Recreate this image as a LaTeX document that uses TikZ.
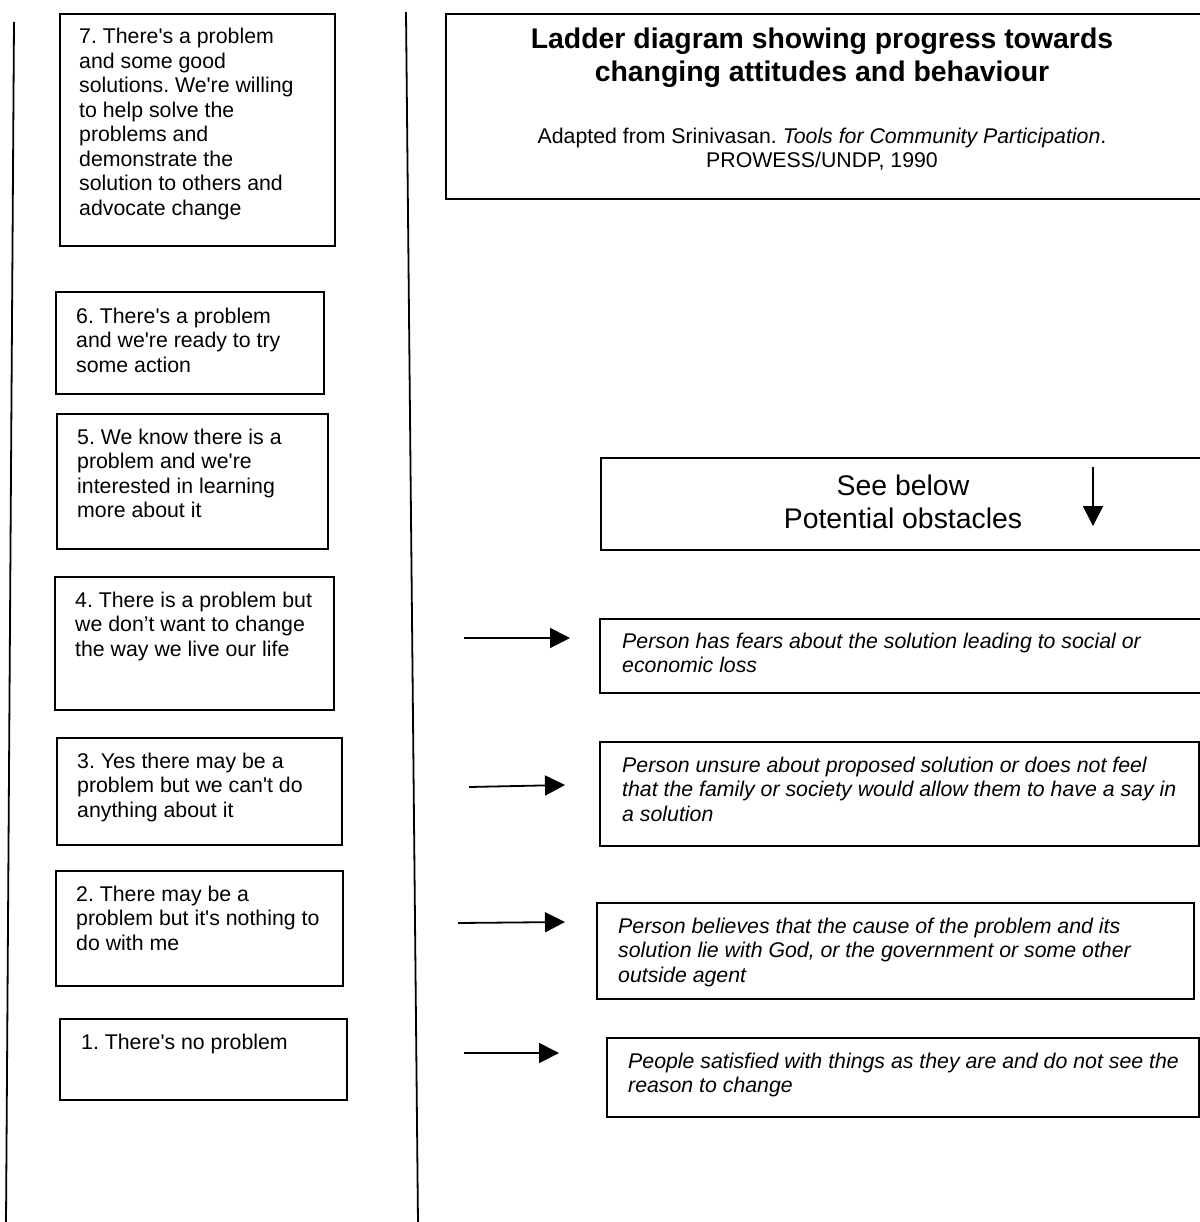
\documentclass[tikz,border=0pt]{standalone}
\usepackage{fontspec}
\setmainfont{Liberation Sans}[Ligatures=TeXOff]
\usetikzlibrary{arrows.meta}
\begin{document}
\frenchspacing
\begin{tikzpicture}[x=1pt,y=-1pt,
  box/.style={draw, line width=1.8pt, anchor=north west, inner sep=0pt},
  rail/.style={draw, line width=1.8pt},
  arr/.style={draw, line width=1.8pt, -{Triangle[length=20pt,width=20pt]}},
  txt/.style={font=\fontsize{21.3}{24.5}\selectfont\frenchspacing, align=left, anchor=base west, inner sep=0pt},
  itxt/.style={txt, font=\fontsize{21.3}{24.5}\selectfont\itshape\frenchspacing},
  ttl/.style={font=\fontsize{28.4}{33}\selectfont\bfseries\frenchspacing, align=center, anchor=base, inner sep=0pt},
  sub/.style={font=\fontsize{21.3}{24}\selectfont\frenchspacing, align=center, anchor=base, inner sep=0pt},
  big/.style={font=\fontsize{28.4}{33}\selectfont\frenchspacing, align=center, anchor=base, inner sep=0pt}]
\useasboundingbox (0,0) rectangle (1199,1222);
\fill[white] (0,0) rectangle (1199,1222);

% ladder rails
\coordinate (ltop) at (14,22);
\coordinate (lbot) at (6,1224);
\coordinate (rtop) at (406,12);
\coordinate (rbot) at (418,1224);
\draw[rail] (ltop) -- (lbot);
\draw[rail] (rtop) -- (rbot);

% ladder rungs
\node[box, minimum width=275pt, minimum height=232pt] (b7) at (59,13) {};
\node[box, minimum width=268pt, minimum height=102pt] (b6) at (55,291) {};
\node[box, minimum width=271pt, minimum height=135pt] (b5) at (56,413) {};
\node[box, minimum width=279pt, minimum height=133pt] (b4) at (54,576) {};
\node[box, minimum width=285pt, minimum height=107pt] (b3) at (56,737) {};
\node[box, minimum width=287pt, minimum height=115pt] (b2) at (55,870) {};
\node[box, minimum width=287pt, minimum height=81pt] (b1) at (59,1018) {};

% texts: anchor = baseline of the last line
\node[txt] (t7) at (79,215.5) {7. There's a problem\\and some good\\solutions. We're willing\\to help solve the\\problems and\\demonstrate the\\solution to others and\\advocate change};
\node[txt] (t6) at (76,372) {6. There's a problem\\and we're ready to try\\some action};
\node[txt] (t5) at (77,517.5) {5. We know there is a\\problem and we're\\interested in learning\\more about it};
\node[txt] (t4) at (75,656) {4. There is a problem but\\we don’t want to change\\the way we live our life};
\node[txt] (t3) at (77,817) {3. Yes there may be a\\problem but we can't do\\anything about it};
\node[txt] (t2) at (76,950) {2. There may be a\\problem but it's nothing to\\do with me};
\node[txt] (t1) at (81,1049) {1. There's no problem};

% title box
\node[box, minimum width=765pt, minimum height=185pt] (title) at (445,13) {};
\node[ttl] (ttext) at (822,82) {Ladder diagram showing progress towards\\changing attitudes and behaviour};
\node[sub] (src) at (822,168) {Adapted from Srinivasan. \textit{Tools for Community Participation}.\\PROWESS/UNDP, 1990};

% see below box
\node[box, minimum width=610pt, minimum height=92pt] (see) at (600,457) {};
\node[big] (seet) at (903,528) {See below\\Potential obstacles};
\coordinate (sa) at (1093,467);
\coordinate (sb) at (1093,526);
\draw[arr] (sa) -- (sb);

% obstacles
\node[box, minimum width=611pt, minimum height=74pt] (o1) at (599,618) {};
\node[box, minimum width=599pt, minimum height=104pt] (o2) at (599,741) {};
\node[box, minimum width=597pt, minimum height=96pt] (o3) at (596,902) {};
\node[box, minimum width=592pt, minimum height=79pt] (o4) at (606,1037) {};

\node[itxt] (ot1) at (622,672.5) {Person has fears about the solution leading to social or\\economic loss};
\node[itxt] (ot2) at (622,821) {Person unsure about proposed solution or does not feel\\that the family or society would allow them to have a say in\\a solution};
\node[itxt] (ot3) at (618,982) {Person believes that the cause of the problem and its\\solution lie with God, or the government or some other\\outside agent};
\node[itxt] (ot4) at (628,1092.5) {People satisfied with things as they are and do not see the\\reason to change};

% arrows
\coordinate (a1s) at (464,638); \coordinate (a1e) at (570,638);
\coordinate (a2s) at (469,787); \coordinate (a2e) at (565,785);
\coordinate (a3s) at (458,923); \coordinate (a3e) at (565,922);
\coordinate (a4s) at (464,1053); \coordinate (a4e) at (559,1053);
\draw[arr] (a1s) -- (a1e);
\draw[arr] (a2s) -- (a2e);
\draw[arr] (a3s) -- (a3e);
\draw[arr] (a4s) -- (a4e);
\end{tikzpicture}
\end{document}
